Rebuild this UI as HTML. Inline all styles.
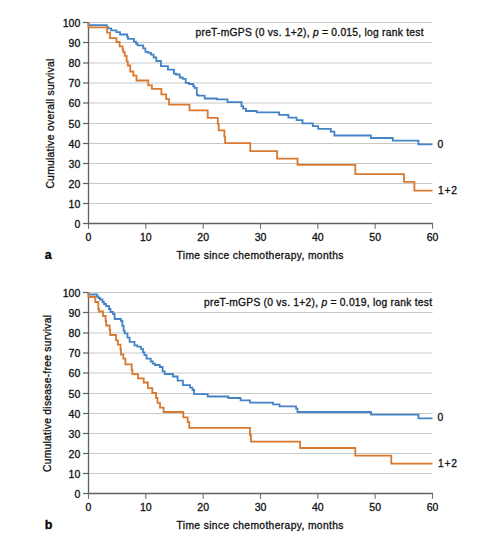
<!DOCTYPE html>
<html><head><meta charset="utf-8"><title>Kaplan-Meier curves</title>
<style>html,body{margin:0;padding:0;background:#fff;width:499px;height:552px;overflow:hidden}
svg text{font-family:"Liberation Sans", sans-serif;stroke:#111;stroke-width:0.3px}</style></head>
<body>
<svg width="499" height="552" viewBox="0 0 499 552" style="display:block">
<rect width="499" height="552" fill="#fff"/>
<line x1="88.5" y1="203.50" x2="432.5" y2="203.50" stroke="#c8c8c8" stroke-width="1"/>
<line x1="88.5" y1="183.50" x2="432.5" y2="183.50" stroke="#c8c8c8" stroke-width="1"/>
<line x1="88.5" y1="163.50" x2="432.5" y2="163.50" stroke="#c8c8c8" stroke-width="1"/>
<line x1="88.5" y1="143.50" x2="432.5" y2="143.50" stroke="#c8c8c8" stroke-width="1"/>
<line x1="88.5" y1="123.50" x2="432.5" y2="123.50" stroke="#c8c8c8" stroke-width="1"/>
<line x1="88.5" y1="103.00" x2="432.5" y2="103.00" stroke="#c8c8c8" stroke-width="1"/>
<line x1="88.5" y1="83.00" x2="432.5" y2="83.00" stroke="#c8c8c8" stroke-width="1"/>
<line x1="88.5" y1="63.00" x2="432.5" y2="63.00" stroke="#c8c8c8" stroke-width="1"/>
<line x1="88.5" y1="42.50" x2="432.5" y2="42.50" stroke="#c8c8c8" stroke-width="1"/>
<line x1="88.5" y1="22.50" x2="432.5" y2="22.50" stroke="#c8c8c8" stroke-width="1"/>
<path d="M88.5 22.50 V223.50 H433.0" fill="none" stroke="#606060" stroke-width="1.3"/>
<line x1="83" y1="223.50" x2="88.5" y2="223.50" stroke="#606060" stroke-width="1.2"/>
<line x1="83" y1="203.50" x2="88.5" y2="203.50" stroke="#606060" stroke-width="1.2"/>
<line x1="83" y1="183.50" x2="88.5" y2="183.50" stroke="#606060" stroke-width="1.2"/>
<line x1="83" y1="163.50" x2="88.5" y2="163.50" stroke="#606060" stroke-width="1.2"/>
<line x1="83" y1="143.50" x2="88.5" y2="143.50" stroke="#606060" stroke-width="1.2"/>
<line x1="83" y1="123.50" x2="88.5" y2="123.50" stroke="#606060" stroke-width="1.2"/>
<line x1="83" y1="103.00" x2="88.5" y2="103.00" stroke="#606060" stroke-width="1.2"/>
<line x1="83" y1="83.00" x2="88.5" y2="83.00" stroke="#606060" stroke-width="1.2"/>
<line x1="83" y1="63.00" x2="88.5" y2="63.00" stroke="#606060" stroke-width="1.2"/>
<line x1="83" y1="42.50" x2="88.5" y2="42.50" stroke="#606060" stroke-width="1.2"/>
<line x1="83" y1="22.50" x2="88.5" y2="22.50" stroke="#606060" stroke-width="1.2"/>
<line x1="88.50" y1="223.50" x2="88.50" y2="228.80" stroke="#707070" stroke-width="1.1"/>
<line x1="145.83" y1="223.50" x2="145.83" y2="228.80" stroke="#707070" stroke-width="1.1"/>
<line x1="203.17" y1="223.50" x2="203.17" y2="228.80" stroke="#707070" stroke-width="1.1"/>
<line x1="260.50" y1="223.50" x2="260.50" y2="228.80" stroke="#707070" stroke-width="1.1"/>
<line x1="317.83" y1="223.50" x2="317.83" y2="228.80" stroke="#707070" stroke-width="1.1"/>
<line x1="375.17" y1="223.50" x2="375.17" y2="228.80" stroke="#707070" stroke-width="1.1"/>
<line x1="432.50" y1="223.50" x2="432.50" y2="228.80" stroke="#707070" stroke-width="1.1"/>
<text x="80.3" y="227.90" text-anchor="end" font-size="10" fill="#111" textLength="5.84" lengthAdjust="spacingAndGlyphs">0</text>
<text x="80.3" y="207.90" text-anchor="end" font-size="10" fill="#111" textLength="11.68" lengthAdjust="spacingAndGlyphs">10</text>
<text x="80.3" y="187.90" text-anchor="end" font-size="10" fill="#111" textLength="11.68" lengthAdjust="spacingAndGlyphs">20</text>
<text x="80.3" y="167.90" text-anchor="end" font-size="10" fill="#111" textLength="11.68" lengthAdjust="spacingAndGlyphs">30</text>
<text x="80.3" y="147.90" text-anchor="end" font-size="10" fill="#111" textLength="11.68" lengthAdjust="spacingAndGlyphs">40</text>
<text x="80.3" y="127.90" text-anchor="end" font-size="10" fill="#111" textLength="11.68" lengthAdjust="spacingAndGlyphs">50</text>
<text x="80.3" y="107.40" text-anchor="end" font-size="10" fill="#111" textLength="11.68" lengthAdjust="spacingAndGlyphs">60</text>
<text x="80.3" y="87.40" text-anchor="end" font-size="10" fill="#111" textLength="11.68" lengthAdjust="spacingAndGlyphs">70</text>
<text x="80.3" y="67.40" text-anchor="end" font-size="10" fill="#111" textLength="11.68" lengthAdjust="spacingAndGlyphs">80</text>
<text x="80.3" y="46.90" text-anchor="end" font-size="10" fill="#111" textLength="11.68" lengthAdjust="spacingAndGlyphs">90</text>
<text x="80.3" y="26.90" text-anchor="end" font-size="10" fill="#111" textLength="17.52" lengthAdjust="spacingAndGlyphs">100</text>
<text x="88.50" y="241.20" text-anchor="middle" font-size="10" fill="#111" textLength="5.84" lengthAdjust="spacingAndGlyphs">0</text>
<text x="145.83" y="241.20" text-anchor="middle" font-size="10" fill="#111" textLength="11.68" lengthAdjust="spacingAndGlyphs">10</text>
<text x="203.17" y="241.20" text-anchor="middle" font-size="10" fill="#111" textLength="11.68" lengthAdjust="spacingAndGlyphs">20</text>
<text x="260.50" y="241.20" text-anchor="middle" font-size="10" fill="#111" textLength="11.68" lengthAdjust="spacingAndGlyphs">30</text>
<text x="317.83" y="241.20" text-anchor="middle" font-size="10" fill="#111" textLength="11.68" lengthAdjust="spacingAndGlyphs">40</text>
<text x="375.17" y="241.20" text-anchor="middle" font-size="10" fill="#111" textLength="11.68" lengthAdjust="spacingAndGlyphs">50</text>
<text x="432.50" y="241.20" text-anchor="middle" font-size="10" fill="#111" textLength="11.68" lengthAdjust="spacingAndGlyphs">60</text>
<path d="M88.5 22.5 V25.2 H106.8 V26.8 H107.8 V28.4 H111.2 V30.4 H116.4 V32.2 H120.0 V34.5 H127.2 V36.8 H128.0 V38.8 H133.9 V41.6 H136.0 V43.5 H137.5 V45.4 H143.2 V48.4 H145.4 V51.8 H148.2 V52.8 H151.0 V54.6 H153.6 V57.5 H156.3 V61.0 H160.9 V66.1 H167.9 V69.7 H173.9 V73.6 H176.0 V74.5 H179.7 V77.5 H182.7 V78.9 H185.7 V82.8 H189.0 V84.0 H193.2 V86.0 H194.4 V87.9 H196.8 V94.8 H198.0 V95.7 H204.7 V98.5 H216.7 V99.3 H227.5 V102.2 H241.5 V106.2 H243.1 V108.6 H246.0 V111.0 H256.7 V112.3 H279.1 V114.8 H288.4 V117.7 H296.6 V120.2 H302.5 V123.4 H312.8 V126.2 H318.2 V128.9 H330.8 V131.6 H334.4 V135.5 H370.8 V138.0 H392.8 V140.6 H418.4 V144.4 H432.5" fill="none" stroke="#4483c6" stroke-width="1.8"/>
<path d="M88.5 22.5 V27.4 H107.0 V32.6 H110.0 V38.1 H116.4 V42.0 H119.6 V46.3 H122.6 V49.5 H123.2 V52.2 H124.8 V55.9 H126.6 V61.3 H127.8 V65.5 H130.2 V71.5 H133.3 V75.7 H136.5 V80.5 H148.3 V85.3 H151.9 V88.9 H161.4 V94.3 H166.2 V99.1 H169.1 V104.7 H189.5 V110.3 H207.7 V117.8 H217.8 V123.9 H218.7 V130.3 H224.4 V136.7 H225.1 V143.1 H250.3 V151.2 H277.1 V158.6 H297.5 V164.9 H355.3 V174.1 H404.0 V181.9 H414.4 V190.7 H432.5" fill="none" stroke="#d9792f" stroke-width="1.8"/>
<text x="195.5" y="35.9" font-size="10.3" fill="#111" textLength="228" lengthAdjust="spacing">preT-mGPS (0 vs. 1+2), <tspan font-style="italic">p</tspan> = 0.015, log rank test</text>
<text x="176.5" y="258.8" font-size="10.3" fill="#111" textLength="167" lengthAdjust="spacing">Time since chemotherapy, months</text>
<text transform="translate(54.0,123.60) rotate(-90)" x="0" y="0" text-anchor="middle" font-size="10.3" fill="#111" textLength="130" lengthAdjust="spacing">Cumulative overall survival</text>
<text x="44.8" y="258.6" font-size="12.5" font-weight="bold" fill="#000">a</text>
<text x="437.5" y="148" font-size="10.3" fill="#111">0</text>
<text x="438" y="194" font-size="10.3" fill="#111" textLength="19" lengthAdjust="spacing">1+2</text>
<line x1="88.5" y1="473.50" x2="432.5" y2="473.50" stroke="#c8c8c8" stroke-width="1"/>
<line x1="88.5" y1="453.50" x2="432.5" y2="453.50" stroke="#c8c8c8" stroke-width="1"/>
<line x1="88.5" y1="433.50" x2="432.5" y2="433.50" stroke="#c8c8c8" stroke-width="1"/>
<line x1="88.5" y1="413.50" x2="432.5" y2="413.50" stroke="#c8c8c8" stroke-width="1"/>
<line x1="88.5" y1="393.50" x2="432.5" y2="393.50" stroke="#c8c8c8" stroke-width="1"/>
<line x1="88.5" y1="373.00" x2="432.5" y2="373.00" stroke="#c8c8c8" stroke-width="1"/>
<line x1="88.5" y1="353.00" x2="432.5" y2="353.00" stroke="#c8c8c8" stroke-width="1"/>
<line x1="88.5" y1="333.00" x2="432.5" y2="333.00" stroke="#c8c8c8" stroke-width="1"/>
<line x1="88.5" y1="312.50" x2="432.5" y2="312.50" stroke="#c8c8c8" stroke-width="1"/>
<line x1="88.5" y1="292.50" x2="432.5" y2="292.50" stroke="#c8c8c8" stroke-width="1"/>
<path d="M88.5 292.50 V493.50 H433.0" fill="none" stroke="#606060" stroke-width="1.3"/>
<line x1="83" y1="493.50" x2="88.5" y2="493.50" stroke="#606060" stroke-width="1.2"/>
<line x1="83" y1="473.50" x2="88.5" y2="473.50" stroke="#606060" stroke-width="1.2"/>
<line x1="83" y1="453.50" x2="88.5" y2="453.50" stroke="#606060" stroke-width="1.2"/>
<line x1="83" y1="433.50" x2="88.5" y2="433.50" stroke="#606060" stroke-width="1.2"/>
<line x1="83" y1="413.50" x2="88.5" y2="413.50" stroke="#606060" stroke-width="1.2"/>
<line x1="83" y1="393.50" x2="88.5" y2="393.50" stroke="#606060" stroke-width="1.2"/>
<line x1="83" y1="373.00" x2="88.5" y2="373.00" stroke="#606060" stroke-width="1.2"/>
<line x1="83" y1="353.00" x2="88.5" y2="353.00" stroke="#606060" stroke-width="1.2"/>
<line x1="83" y1="333.00" x2="88.5" y2="333.00" stroke="#606060" stroke-width="1.2"/>
<line x1="83" y1="312.50" x2="88.5" y2="312.50" stroke="#606060" stroke-width="1.2"/>
<line x1="83" y1="292.50" x2="88.5" y2="292.50" stroke="#606060" stroke-width="1.2"/>
<line x1="88.50" y1="493.50" x2="88.50" y2="498.80" stroke="#707070" stroke-width="1.1"/>
<line x1="145.83" y1="493.50" x2="145.83" y2="498.80" stroke="#707070" stroke-width="1.1"/>
<line x1="203.17" y1="493.50" x2="203.17" y2="498.80" stroke="#707070" stroke-width="1.1"/>
<line x1="260.50" y1="493.50" x2="260.50" y2="498.80" stroke="#707070" stroke-width="1.1"/>
<line x1="317.83" y1="493.50" x2="317.83" y2="498.80" stroke="#707070" stroke-width="1.1"/>
<line x1="375.17" y1="493.50" x2="375.17" y2="498.80" stroke="#707070" stroke-width="1.1"/>
<line x1="432.50" y1="493.50" x2="432.50" y2="498.80" stroke="#707070" stroke-width="1.1"/>
<text x="80.3" y="497.90" text-anchor="end" font-size="10" fill="#111" textLength="5.84" lengthAdjust="spacingAndGlyphs">0</text>
<text x="80.3" y="477.90" text-anchor="end" font-size="10" fill="#111" textLength="11.68" lengthAdjust="spacingAndGlyphs">10</text>
<text x="80.3" y="457.90" text-anchor="end" font-size="10" fill="#111" textLength="11.68" lengthAdjust="spacingAndGlyphs">20</text>
<text x="80.3" y="437.90" text-anchor="end" font-size="10" fill="#111" textLength="11.68" lengthAdjust="spacingAndGlyphs">30</text>
<text x="80.3" y="417.90" text-anchor="end" font-size="10" fill="#111" textLength="11.68" lengthAdjust="spacingAndGlyphs">40</text>
<text x="80.3" y="397.90" text-anchor="end" font-size="10" fill="#111" textLength="11.68" lengthAdjust="spacingAndGlyphs">50</text>
<text x="80.3" y="377.40" text-anchor="end" font-size="10" fill="#111" textLength="11.68" lengthAdjust="spacingAndGlyphs">60</text>
<text x="80.3" y="357.40" text-anchor="end" font-size="10" fill="#111" textLength="11.68" lengthAdjust="spacingAndGlyphs">70</text>
<text x="80.3" y="337.40" text-anchor="end" font-size="10" fill="#111" textLength="11.68" lengthAdjust="spacingAndGlyphs">80</text>
<text x="80.3" y="316.90" text-anchor="end" font-size="10" fill="#111" textLength="11.68" lengthAdjust="spacingAndGlyphs">90</text>
<text x="80.3" y="296.90" text-anchor="end" font-size="10" fill="#111" textLength="17.52" lengthAdjust="spacingAndGlyphs">100</text>
<text x="88.50" y="511.20" text-anchor="middle" font-size="10" fill="#111" textLength="5.84" lengthAdjust="spacingAndGlyphs">0</text>
<text x="145.83" y="511.20" text-anchor="middle" font-size="10" fill="#111" textLength="11.68" lengthAdjust="spacingAndGlyphs">10</text>
<text x="203.17" y="511.20" text-anchor="middle" font-size="10" fill="#111" textLength="11.68" lengthAdjust="spacingAndGlyphs">20</text>
<text x="260.50" y="511.20" text-anchor="middle" font-size="10" fill="#111" textLength="11.68" lengthAdjust="spacingAndGlyphs">30</text>
<text x="317.83" y="511.20" text-anchor="middle" font-size="10" fill="#111" textLength="11.68" lengthAdjust="spacingAndGlyphs">40</text>
<text x="375.17" y="511.20" text-anchor="middle" font-size="10" fill="#111" textLength="11.68" lengthAdjust="spacingAndGlyphs">50</text>
<text x="432.50" y="511.20" text-anchor="middle" font-size="10" fill="#111" textLength="11.68" lengthAdjust="spacingAndGlyphs">60</text>
<path d="M88.5 292.5 V294.5 H97.0 V296.5 H98.5 V298.0 H100.0 V299.5 H102.5 V302.0 H104.0 V304.0 H106.0 V306.0 H109.0 V309.0 H110.5 V312.0 H113.0 V314.0 H114.6 V319.0 H121.0 V321.0 H122.4 V326.0 H123.6 V330.6 H124.7 V333.4 H127.5 V337.6 H129.6 V341.8 H134.5 V345.3 H137.3 V346.7 H140.9 V348.8 H143.0 V352.3 H144.4 V355.2 H146.5 V358.7 H150.7 V361.5 H152.8 V363.6 H154.9 V365.0 H159.8 V367.0 H162.6 V371.3 H164.7 V374.0 H173.0 V376.5 H177.6 V380.7 H182.9 V385.2 H190.1 V387.6 H192.5 V390.0 H194.1 V394.1 H207.7 V396.5 H228.3 V398.0 H240.6 V400.4 H250.0 V402.6 H273.1 V404.4 H279.5 V406.4 H296.1 V408.6 H297.5 V412.0 H371.0 V414.6 H418.5 V418.4 H432.5" fill="none" stroke="#4483c6" stroke-width="1.8"/>
<path d="M88.5 292.5 V297.0 H95.3 V302.0 H98.3 V309.0 H99.0 V311.5 H103.0 V316.0 H105.6 V321.0 H106.2 V325.5 H109.6 V330.0 H110.2 V335.0 H116.0 V340.4 H117.9 V344.6 H120.5 V349.5 H121.0 V354.5 H123.3 V358.7 H125.4 V364.3 H131.7 V369.9 H132.4 V374.1 H138.0 V378.3 H143.7 V382.5 H147.9 V388.1 H152.3 V393.0 H156.1 V398.0 H157.5 V402.9 H160.0 V407.7 H163.6 V412.0 H183.3 V417.3 H187.7 V422.1 H189.3 V427.8 H250.0 V435.0 H251.0 V441.7 H300.1 V448.0 H355.3 V455.7 H391.3 V463.6 H432.5" fill="none" stroke="#d9792f" stroke-width="1.8"/>
<text x="204" y="305.9" font-size="10.3" fill="#111" textLength="228" lengthAdjust="spacing">preT-mGPS (0 vs. 1+2), <tspan font-style="italic">p</tspan> = 0.019, log rank test</text>
<text x="176.5" y="528.8" font-size="10.3" fill="#111" textLength="167" lengthAdjust="spacing">Time since chemotherapy, months</text>
<text transform="translate(50.6,393.45) rotate(-90)" x="0" y="0" text-anchor="middle" font-size="10.3" fill="#111" textLength="157" lengthAdjust="spacing">Cumulative disease-free survival</text>
<text x="44.8" y="528.6" font-size="12.5" font-weight="bold" fill="#000">b</text>
<text x="437.5" y="421" font-size="10.3" fill="#111">0</text>
<text x="438" y="467" font-size="10.3" fill="#111" textLength="19" lengthAdjust="spacing">1+2</text>
</svg>
</body></html>
